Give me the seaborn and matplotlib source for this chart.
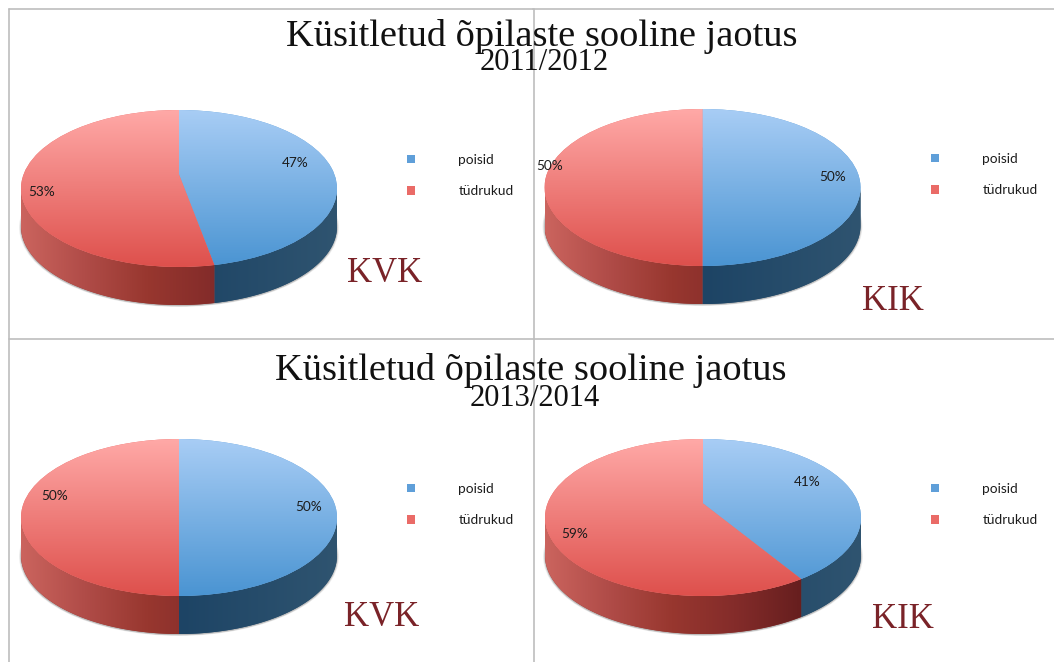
import numpy as np
import seaborn as sns
import matplotlib
matplotlib.use('Agg')
import matplotlib.pyplot as plt
from matplotlib.patches import Ellipse, Polygon
from matplotlib.transforms import Transform

# Values
groups = ['poisid', 'tüdrukud']
kvk_2011 = [47, 53]
kik_2011 = [50, 50]
kvk_2013 = [50, 50]
kik_2013 = [41, 59]
panel_names = ['KVK', 'KIK', 'KVK', 'KIK']
title_main = 'Küsitletud õpilaste sooline jaotus'
years = ['2011/2012', '2013/2014']

W, H = 1054, 662
RX, RY, DEPTH = 158, 78.5, 38
E = 0.18  # the pie centre looks shifted up because of the perspective

sns.set_theme(style='white')
plt.rcParams['font.family'] = ['Lato', 'DejaVu Sans']

blue_top = sns.blend_palette(['#a8cdf5', '#4a94d2'], as_cmap=True)
red_top = sns.blend_palette(['#ffa9a7', '#de504c'], as_cmap=True)
blue_side = sns.blend_palette(['#1b3f60', '#1d4465', '#2f5470'], as_cmap=True)
red_side = sns.blend_palette(['#cb645e', '#b04c48', '#98372f', '#842c2a', '#681f1f', '#5a1a1a'], as_cmap=True)


class Persp(Transform):
    input_dims = 2
    output_dims = 2

    def transform_non_affine(self, values):
        x, y = np.asarray(values).T
        d = 1 + E * y
        return np.column_stack([x * np.sqrt(1 - E ** 2) / d, (y + E) / d])


fig = plt.figure(figsize=(W / 100, H / 100), dpi=100, facecolor='white')

# background axes in pixels, for the frame lines and the big titles
bg = fig.add_axes([0, 0, 1, 1])
bg.set_xlim(0, W)
bg.set_ylim(H, 0)
bg.axis('off')
line_col = '#bdbdbd'
bg.plot([9, 533], [9, 9], color=line_col, lw=1.2)
bg.plot([533, W], [8.5, 8.5], color=line_col, lw=1.2)
bg.plot([9, 9], [9, H], color=line_col, lw=1.2)
bg.plot([9, W], [339, 339], color=line_col, lw=1.2)
bg.plot([533.5, 533.5], [9, H], color=line_col, lw=1.2)

serif = 'Liberation Serif'
bg.text(541.5, 37, title_main, family=serif, fontsize=27.6, color='#111111', ha='center', va='center')
bg.text(544.5, 63, years[0], family=serif, fontsize=22, color='#111111', ha='center', va='center')
bg.text(530.5, 371, title_main, family=serif, fontsize=27.6, color='#111111', ha='center', va='center')
bg.text(534.5, 398, years[1], family=serif, fontsize=22, color='#111111', ha='center', va='center')

panels = [
    (kvk_2011, 179, 188.5, [(295, 163), (42, 192)], (406.5, 175.5), (385, 273)),
    (kik_2011, 702.5, 187.5, [(833, 177), (550, 166)], (930.5, 174.5), (893, 301)),
    (kvk_2013, 179, 517.5, [(309, 507), (55, 496)], (406.5, 504.5), (382, 618)),
    (kik_2013, 703, 517.5, [(807, 482), (575, 534)], (930.5, 504.5), (903, 619)),
]

for (values, cx, cy, pct_pos, leg_pos, name_pos), name in zip(panels, panel_names):
    # axes runs over the top ellipse plus the wall below it
    pad = 6
    ax = fig.add_axes([(cx - RX) / W, (H - cy - RY - DEPTH - pad) / H,
                       2 * RX / W, (2 * RY + DEPTH + pad) / H])
    wedges, _, pcts = ax.pie(values, startangle=90, counterclock=False, radius=1,
                             colors=['#5f9fd9', '#ea6b67'],
                             wedgeprops={'linewidth': 0, 'edgecolor': 'none'},
                             autopct=lambda p: f'{p:.0f}%',
                             textprops={'fontsize': 9.8, 'color': '#1c1c1c'})
    ax.set_aspect('auto')
    depth = DEPTH / RY

    # soft shadow below the wall
    for grow, a in [(1.012, 0.10), (1.007, 0.14), (1.003, 0.2)]:
        ax.add_patch(Ellipse((0, -depth - 0.012), 2 * grow, 2 * grow, facecolor='#555555',
                             alpha=a, edgecolor='none', zorder=0, clip_on=False))

    for wedge, top_cmap, side_cmap in zip(wedges, [blue_top, red_top], [blue_side, red_side]):
        # wall of the slice, only the part of the rim that faces the viewer
        t = np.radians(np.linspace(wedge.theta1, wedge.theta2, 400))
        rim = Persp().transform_non_affine(np.column_stack([np.cos(t), np.sin(t)]))
        rim = rim[rim[:, 1] <= 0]
        wall = Polygon(np.vstack([rim, (rim - [0, depth])[::-1]]), closed=True,
                       facecolor=side_cmap(0.5), edgecolor='none', zorder=1)
        ax.add_patch(wall)
        im = ax.imshow(np.linspace(0, 1, 256)[None, :], cmap=side_cmap, vmin=0, vmax=1,
                       extent=[-1, 1, -1 - depth, 0], aspect='auto', zorder=1.5)
        im.set_clip_path(wall)

        # top of the slice
        wedge.set_transform(Persp() + ax.transData)
        wedge.set_zorder(2)
        im = ax.imshow(np.linspace(0, 1, 256)[:, None], cmap=top_cmap, vmin=0, vmax=1,
                       extent=[-1, 1, -1, 1], aspect='auto', zorder=2.5)
        im.set_clip_path(wedge)

    for txt, (px, py) in zip(pcts, pct_pos):
        txt.set_position(((px - cx) / RX, (cy - py) / RY))
        txt.set_ha('center')
        txt.set_va('center')
        txt.set_zorder(5)

    ax.set_xlim(-1, 1)
    ax.set_ylim(-1 - depth - pad / RY, 1)
    ax.axis('off')

    leg = ax.legend(wedges, groups, loc='center left', frameon=False, fontsize=9.8,
                    bbox_to_anchor=(leg_pos[0] / W, 1 - leg_pos[1] / H), bbox_transform=fig.transFigure,
                    handlelength=0.62, handleheight=0.62, handletextpad=3.18,
                    labelspacing=1.42, borderpad=0, borderaxespad=0)
    for t in leg.get_texts():
        t.set_color('#1c1c1c')

    bg.text(name_pos[0], name_pos[1], name, family=serif, fontsize=25, color='#7a2328',
            ha='center', va='center', zorder=10)

plt.savefig('out.png', dpi=100)
